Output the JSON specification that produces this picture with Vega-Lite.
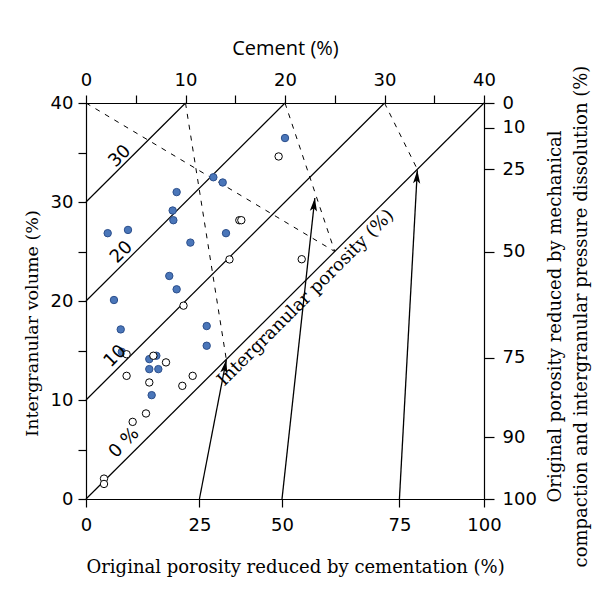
{
  "$schema": "https://vega.github.io/schema/vega-lite/v6.json",
  "width": 398,
  "height": 396,
  "autosize": {"type": "none"},
  "padding": {"left": 86, "top": 103, "right": 115, "bottom": 107},
  "background": "white",
  "config": {
    "view": {"stroke": null},
    "axis": {
      "domainColor": "black",
      "domainWidth": 1.2,
      "tickColor": "black",
      "tickWidth": 1.2,
      "labelColor": "black",
      "titleColor": "black",
      "grid": false,
      "labelFont": "DejaVu Sans",
      "labelFontSize": 18,
      "labelOverlap": false,
      "labelFlush": false,
      "titleFontWeight": "normal"
    }
  },
  "datasets": {
    "lines": [
      {"porosity": 0, "x": 0, "y": 0, "x2": 40, "y2": 40},
      {"porosity": 10, "x": 0, "y": 10, "x2": 30, "y2": 40},
      {"porosity": 20, "x": 0, "y": 20, "x2": 20, "y2": 40},
      {"porosity": 30, "x": 0, "y": 30, "x2": 10, "y2": 40}
    ],
    "dashed": [
      {"x": 0, "y": 40, "x2": 25, "y2": 25},
      {"x": 10, "y": 40, "x2": 14.1, "y2": 14.1},
      {"x": 20, "y": 40, "x2": 25, "y2": 25},
      {"x": 30, "y": 40, "x2": 33.3, "y2": 33.3}
    ],
    "arrows": [
      {"x": 11.4, "y": 0, "x2": 14.1, "y2": 14.05},
      {"x": 19.7, "y": 0, "x2": 23.0, "y2": 30.4},
      {"x": 31.5, "y": 0, "x2": 33.3, "y2": 33.2}
    ],
    "samples": [
      {"sample": "filled", "cement": 20.0, "igv": 36.46},
      {"sample": "filled", "cement": 12.8, "igv": 32.5},
      {"sample": "filled", "cement": 13.74, "igv": 31.97},
      {"sample": "filled", "cement": 9.11, "igv": 31.0},
      {"sample": "filled", "cement": 8.71, "igv": 29.14},
      {"sample": "filled", "cement": 8.78, "igv": 28.16},
      {"sample": "filled", "cement": 2.18, "igv": 26.85},
      {"sample": "filled", "cement": 4.22, "igv": 27.18},
      {"sample": "filled", "cement": 14.07, "igv": 26.85},
      {"sample": "filled", "cement": 10.49, "igv": 25.9},
      {"sample": "filled", "cement": 8.37, "igv": 22.53},
      {"sample": "filled", "cement": 9.11, "igv": 21.18},
      {"sample": "filled", "cement": 2.81, "igv": 20.1},
      {"sample": "filled", "cement": 3.49, "igv": 17.13},
      {"sample": "filled", "cement": 12.13, "igv": 17.47},
      {"sample": "filled", "cement": 12.13, "igv": 15.48},
      {"sample": "filled", "cement": 3.6, "igv": 14.86},
      {"sample": "filled", "cement": 6.36, "igv": 14.13},
      {"sample": "filled", "cement": 7.07, "igv": 14.47},
      {"sample": "filled", "cement": 6.36, "igv": 13.12},
      {"sample": "filled", "cement": 7.27, "igv": 13.12},
      {"sample": "filled", "cement": 6.6, "igv": 10.49},
      {"sample": "open", "cement": 19.36, "igv": 34.6},
      {"sample": "open", "cement": 15.41, "igv": 28.16},
      {"sample": "open", "cement": 15.61, "igv": 28.16},
      {"sample": "open", "cement": 14.42, "igv": 24.2},
      {"sample": "open", "cement": 21.68, "igv": 24.22},
      {"sample": "open", "cement": 9.8, "igv": 19.53},
      {"sample": "open", "cement": 4.08, "igv": 14.62},
      {"sample": "open", "cement": 6.77, "igv": 14.47},
      {"sample": "open", "cement": 8.04, "igv": 13.8},
      {"sample": "open", "cement": 4.08, "igv": 12.44},
      {"sample": "open", "cement": 10.72, "igv": 12.44},
      {"sample": "open", "cement": 6.36, "igv": 11.77},
      {"sample": "open", "cement": 9.68, "igv": 11.43},
      {"sample": "open", "cement": 6.03, "igv": 8.64},
      {"sample": "open", "cement": 4.69, "igv": 7.79},
      {"sample": "open", "cement": 1.81, "igv": 2.06},
      {"sample": "open", "cement": 1.81, "igv": 1.52}
    ],
    "lineLabels": [
      {"label": "30", "cement": 3.42, "igv": 34.6},
      {"label": "20", "cement": 3.58, "igv": 24.9},
      {"label": "10", "cement": 2.95, "igv": 14.4},
      {"label": "0 %", "cement": 3.85, "igv": 5.65}
    ],
    "porosityLabel": [
      {"label": "Intergranular porosity (%)", "cement": 22.1, "igv": 20.3}
    ]
  },
  "layer": [
    {
      "data": {"name": "lines"},
      "mark": {"type": "rule", "color": "black", "strokeWidth": 1.2},
      "encoding": {
        "x": {
          "field": "x", "type": "quantitative",
          "scale": {"domain": [0, 40], "nice": false, "zero": false},
          "axis": {
            "orient": "bottom",
            "values": [0, 11.4, 19.7, 31.5, 40],
            "labelExpr": "datum.value == 0 ? '0' : datum.value < 12 ? '25' : datum.value < 20 ? '50' : datum.value < 32 ? '75' : '100'",
            "tickSize": 8,
            "labelPadding": 9,
            "title": "Original porosity reduced by cementation (%)",
            "titleFont": "DejaVu Serif",
            "titleFontSize": 18,
            "titlePadding": 24,
            "titleAnchor": "start"
          }
        },
        "y": {
          "field": "y", "type": "quantitative",
          "scale": {"domain": [0, 40], "nice": false, "zero": false},
          "axis": {
            "orient": "left",
            "values": [0, 5, 10, 15, 20, 25, 30, 35, 40],
            "labelExpr": "datum.value % 10 == 0 ? datum.label : ''",
            "tickSize": 8,
            "labelPadding": 5,
            "title": "Intergranular volume (%)",
            "titleFont": "DejaVu Serif",
            "titleFontSize": 17.5,
            "titlePadding": 9,
            "titleY": 220
          }
        },
        "x2": {"field": "x2"},
        "y2": {"field": "y2"}
      }
    },
    {
      "data": {"name": "dashed"},
      "mark": {"type": "rule", "color": "black", "strokeWidth": 1, "strokeDash": [5, 6]},
      "encoding": {
        "x": {
          "field": "x", "type": "quantitative",
          "scale": {"domain": [0, 40], "nice": false, "zero": false},
          "axis": {
            "orient": "top",
            "values": [0, 5, 10, 15, 20, 25, 30, 35, 40],
            "labelExpr": "datum.value % 10 == 0 ? datum.label : ''",
            "tickSize": 8,
            "labelPadding": 6,
            "title": "Cement (%)",
            "titleFont": "Open Sans",
            "titleFontSize": 20,
            "titlePadding": 13
          }
        },
        "y": {
          "field": "y", "type": "quantitative",
          "scale": {"domain": [0, 40], "nice": false, "zero": false},
          "axis": {
            "orient": "right",
            "values": [40, 37.5, 33.333, 25, 14.286, 6.25, 0],
            "labelExpr": "datum.value > 39 ? '0' : datum.value > 37 ? '10' : datum.value > 33 ? '25' : datum.value > 24 ? '50' : datum.value > 14 ? '75' : datum.value > 6 ? '90' : '100'",
            "tickSize": 10,
            "labelPadding": 8,
            "title": ["Original porosity reduced by mechanical", "compaction and intergranular pressure dissolution (%)"],
            "titleFont": "DejaVu Serif",
            "titleFontSize": 18,
            "titleAngle": 270,
            "titleBaseline": "top",
            "titleLineHeight": 26,
            "titlePadding": -16,
            "titleY": 213
          }
        },
        "x2": {"field": "x2"},
        "y2": {"field": "y2"}
      }
    },
    {
      "data": {"name": "arrows"},
      "mark": {"type": "rule", "color": "black", "strokeWidth": 1.3},
      "encoding": {
        "x": {"field": "x", "type": "quantitative", "scale": {"domain": [0, 40], "nice": false, "zero": false}, "axis": null},
        "y": {"field": "y", "type": "quantitative", "scale": {"domain": [0, 40], "nice": false, "zero": false}, "axis": null},
        "x2": {"field": "x2"},
        "y2": {"field": "y2"}
      }
    },
    {
      "data": {"name": "arrows"},
      "transform": [
        {"calculate": "atan2((datum.x2 - datum.x) * 9.95, (datum.y2 - datum.y) * 9.9) * 180 / PI", "as": "heading"}
      ],
      "mark": {"type": "point", "shape": "M0,0 L0.6,2.2 L0,1.7 L-0.6,2.2 Z", "filled": true, "color": "black", "size": 144, "opacity": 1},
      "encoding": {
        "x": {"field": "x2", "type": "quantitative", "scale": {"domain": [0, 40], "nice": false, "zero": false}, "axis": null},
        "y": {"field": "y2", "type": "quantitative", "scale": {"domain": [0, 40], "nice": false, "zero": false}, "axis": null},
        "angle": {"field": "heading", "type": "quantitative", "scale": null}
      }
    },
    {
      "data": {"name": "samples"},
      "mark": {"type": "circle", "size": 55, "strokeWidth": 1, "opacity": 1},
      "encoding": {
        "x": {"field": "cement", "type": "quantitative", "scale": {"domain": [0, 40], "nice": false, "zero": false}, "axis": null},
        "y": {"field": "igv", "type": "quantitative", "scale": {"domain": [0, 40], "nice": false, "zero": false}, "axis": null},
        "fill": {"field": "sample", "type": "nominal", "scale": {"domain": ["filled", "open"], "range": ["#4a76b9", "#ffffff"]}, "legend": null},
        "stroke": {"field": "sample", "type": "nominal", "scale": {"domain": ["filled", "open"], "range": ["#2c4f8c", "#000000"]}, "legend": null}
      }
    },
    {
      "data": {"name": "lineLabels"},
      "mark": {"type": "text", "angle": -45, "font": "DejaVu Sans", "fontSize": 18, "align": "center", "baseline": "middle", "color": "black"},
      "encoding": {
        "x": {"field": "cement", "type": "quantitative", "scale": {"domain": [0, 40], "nice": false, "zero": false}, "axis": null},
        "y": {"field": "igv", "type": "quantitative", "scale": {"domain": [0, 40], "nice": false, "zero": false}, "axis": null},
        "text": {"field": "label"}
      }
    },
    {
      "data": {"name": "porosityLabel"},
      "mark": {"type": "text", "angle": -45, "font": "DejaVu Serif", "fontSize": 18, "align": "center", "baseline": "middle", "color": "black"},
      "encoding": {
        "x": {"field": "cement", "type": "quantitative", "scale": {"domain": [0, 40], "nice": false, "zero": false}, "axis": null},
        "y": {"field": "igv", "type": "quantitative", "scale": {"domain": [0, 40], "nice": false, "zero": false}, "axis": null},
        "text": {"field": "label"}
      }
    }
  ],
  "resolve": {"axis": {"x": "independent", "y": "independent"}}
}
